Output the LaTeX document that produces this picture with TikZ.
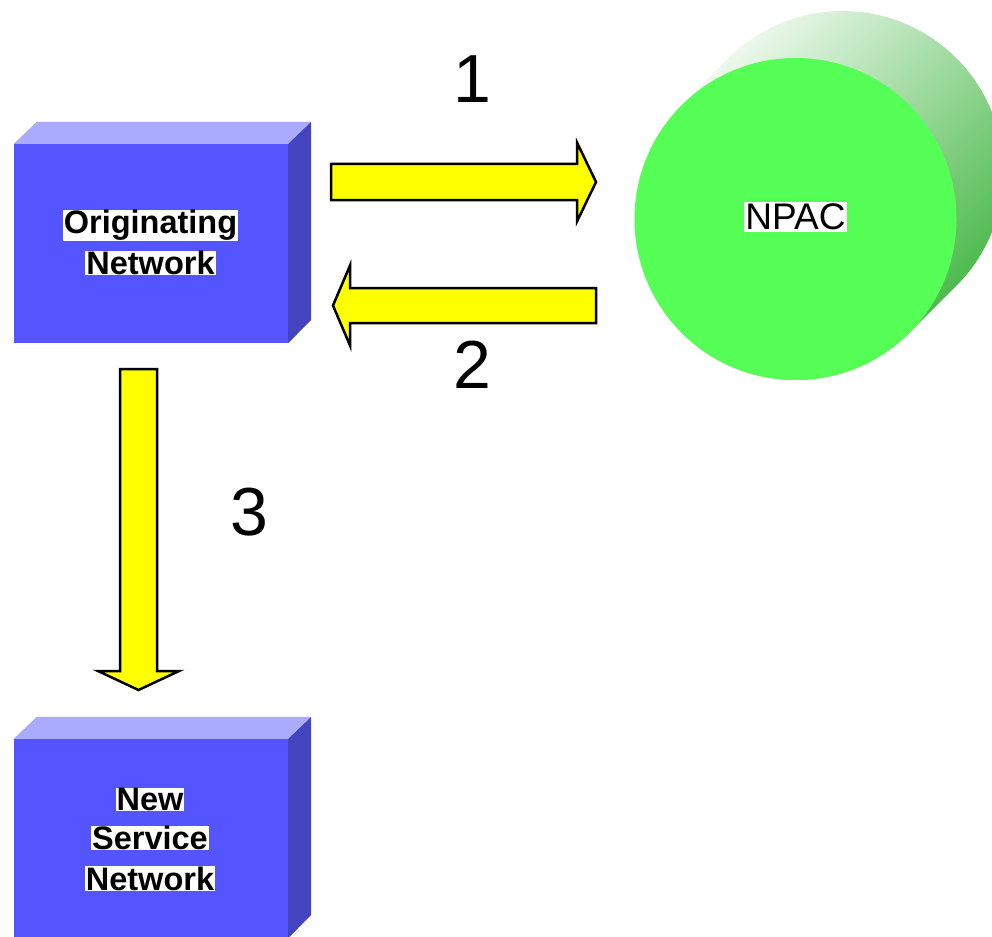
\documentclass[tikz,border=0pt]{standalone}
\usepackage{fontspec}
\setmainfont{Liberation Sans}
\usetikzlibrary{calc}
\definecolor{boxfront}{RGB}{85,85,255}
\definecolor{boxtop}{RGB}{170,170,255}
\definecolor{boxside}{RGB}{68,68,190}
\definecolor{npacfront}{RGB}{85,255,85}
\definecolor{npacdark}{RGB}{60,180,60}
\definecolor{arrowyellow}{RGB}{255,255,0}
% name, tail, tip, half shaft width, half head width, head length
\newcommand{\fatarrow}[6]{%
  \coordinate (#1b) at ($(#3)!#6pt!(#2)$);
  \draw[yarrow] ($(#2)!#4pt!90:(#3)$) -- ($(#1b)!#4pt!90:(#3)$) -- ($(#1b)!#5pt!90:(#3)$) -- (#3)
    -- ($(#1b)!#5pt!-90:(#3)$) -- ($(#1b)!#4pt!-90:(#3)$) -- ($(#2)!#4pt!-90:(#3)$) -- cycle;}
\begin{document}
\begin{tikzpicture}[x=1pt,y=-1pt,
  boxface/.style={draw=none, fill=boxfront, minimum width=274pt, minimum height=199pt, inner sep=0pt},
  boxlabel/.style={fill=white, inner xsep=1pt, inner ysep=0.5pt, font=\bfseries\fontsize{32.5}{38}\selectfont},
  yarrow/.style={fill=arrowyellow, draw=black, line width=2.5pt, line join=miter},
  steplabel/.style={font=\fontsize{68}{80}\selectfont, inner sep=0pt}]
\useasboundingbox (0,0) rectangle (992,936);

% Originating network box
\node[boxface] (orig) at (151,243.5) {};
\fill[boxtop] (orig.north west) -- ++(23,-22) -- ++(274,0) -- (orig.north east) -- cycle;
\fill[boxside] (orig.north east) -- ++(23,-22) -- ++(0,198) -- (orig.south east) -- cycle;
\node[boxlabel] (origl1) at (150.5,225.5) {Originating};
\node[boxlabel] (origl2) at (150.5,263) {Network};

% New service network box
\node[boxface] (newsn) at (151,838.5) {};
\fill[boxtop] (newsn.north west) -- ++(23,-22) -- ++(274,0) -- (newsn.north east) -- cycle;
\fill[boxside] (newsn.north east) -- ++(23,-22) -- ++(0,198) -- (newsn.south east) -- cycle;
\node[boxlabel] (newl1) at (150,799.5) {New};
\node[boxlabel] (newl2) at (150,838) {Service};
\node[boxlabel] (newl3) at (150,878.5) {Network};

% NPAC cylinder
\coordinate (c1) at (795.5,219);
\coordinate (c2) at (842.5,172);
\shade[top color=white, bottom color=npacdark, shading angle=45]
  ($(c1)+(45:161)$) arc[start angle=45, end angle=225, radius=161]
  -- ($(c2)+(225:161)$) arc[start angle=225, end angle=405, radius=161] -- cycle;
\node[circle, fill=npacfront, minimum size=322pt, inner sep=0pt] (npac) at (c1) {};
\node[fill=white, inner xsep=1pt, inner ysep=1.5pt, font=\fontsize{37}{44}\selectfont] (npacl) at (795.5,217) {NPAC};

% block arrows
\coordinate (a1t) at (331,182);   \coordinate (a1h) at (596,182);
\coordinate (a2t) at (596,305.5); \coordinate (a2h) at (333,305.5);
\coordinate (a3t) at (138.5,369); \coordinate (a3h) at (138.5,690);
\fatarrow{a1}{a1t}{a1h}{18}{39.5}{19}
\fatarrow{a2}{a2t}{a2h}{17.5}{40}{17}
\fatarrow{a3}{a3t}{a3h}{18.5}{40.5}{19}

% step numbers
\node[steplabel] (n1) at (472,79) {1};
\node[steplabel] (n2) at (472,364.5) {2};
\node[steplabel] (n3) at (249,512.5) {3};
\end{tikzpicture}
\end{document}
